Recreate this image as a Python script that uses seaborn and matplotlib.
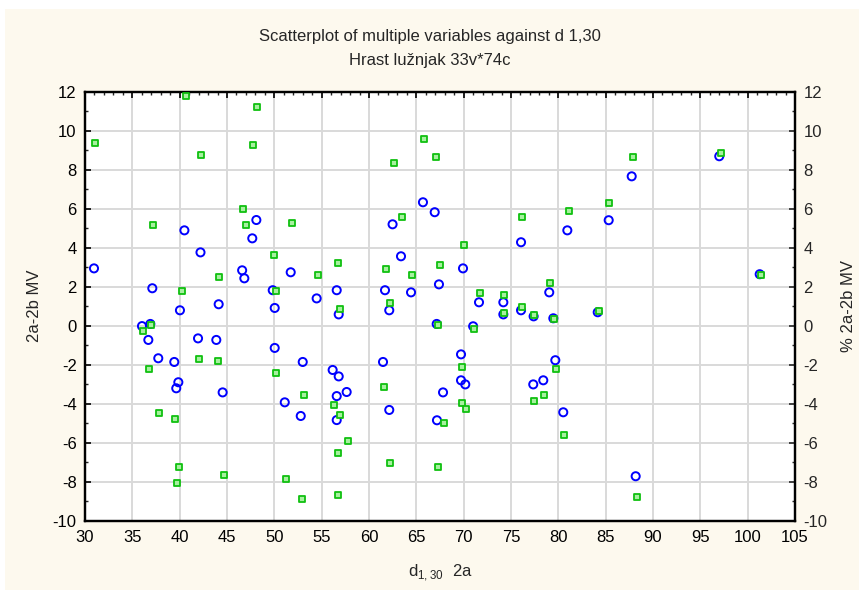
import numpy as np
import pandas as pd
import matplotlib
matplotlib.use("Agg")
import matplotlib.pyplot as plt
from matplotlib.ticker import MultipleLocator
import seaborn as sns

# ── data ──────────────────────────────────────────────────
# blue circles: 2a-2b MV against d1,30
d130_mv = [48.1, 40.5, 47.67, 42.2, 30.95, 46.6, 46.83, 37.11, 44.12, 40.03,
           36.02, 36.9, 36.69, 41.94, 43.87, 37.74, 39.43, 39.86, 39.64, 44.54,
           65.7, 62.49, 63.38, 51.73, 49.83, 56.59, 61.69, 64.44, 54.47, 50.04,
           56.8, 62.14, 50.04, 53.0, 61.48, 56.16, 56.8, 57.64, 56.59, 51.1,
           62.14, 52.79, 56.59, 66.94, 80.95, 85.32, 76.06, 69.93, 67.39, 79.04,
           71.62, 74.19, 74.19, 76.06, 77.39, 79.47, 84.16, 67.15, 71.0, 69.72,
           79.68, 69.72, 70.17, 78.41, 77.35, 67.82, 80.52, 67.18, 87.75, 97.0,
           101.27, 88.17]
mv = [5.42, 4.89, 4.48, 3.76, 2.94, 2.84, 2.43, 1.92, 1.10, 0.79,
      -0.02, 0.09, -0.73, -0.65, -0.73, -1.67, -1.86, -2.90, -3.21, -3.42,
      6.33, 5.2, 3.56, 2.74, 1.82, 1.82, 1.82, 1.71, 1.4, 0.91,
      0.58, 0.79, -1.14, -1.86, -1.86, -2.27, -2.6, -3.4, -3.61, -3.93,
      -4.32, -4.63, -4.84, 5.82, 4.89, 5.41, 4.28, 2.94, 2.12, 1.71,
      1.2, 1.2, 0.58, 0.79, 0.48, 0.38, 0.69, 0.09, -0.03, -1.47,
      -1.77, -2.8, -3.01, -2.8, -3.01, -3.42, -4.44, -4.85, 7.66, 8.69,
      2.64, -7.72]

# green squares: % 2a-2b MV against d1,30
d130_pct = [40.64, 48.2, 31.06, 47.78, 42.29, 46.72, 37.2, 46.97, 44.2, 40.2,
            37.0, 36.16, 42.07, 44.01, 36.8, 37.85, 39.54, 39.96, 44.65, 39.75,
            65.81, 62.64, 63.49, 51.83, 49.93, 56.69, 61.76, 54.58, 64.54, 50.14,
            56.9, 62.22, 50.14, 61.58, 53.1, 56.3, 56.9, 57.75, 56.69, 62.22,
            51.2, 56.69, 52.89, 67.04, 76.19, 81.09, 85.35, 70.0, 67.5, 79.15,
            71.74, 74.29, 74.29, 76.19, 77.46, 79.57, 84.26, 67.29, 71.12, 69.82,
            79.78, 78.51, 77.46, 69.82, 70.28, 67.92, 80.63, 67.29, 87.85, 97.15,
            101.37, 88.27]
pct = [11.79, 11.2, 9.35, 9.25, 8.74, 5.97, 5.15, 5.15, 2.48, 1.76,
       0.04, -0.29, -1.71, -1.81, -2.22, -4.48, -4.80, -7.26, -7.67, -8.07,
       9.56, 8.33, 5.56, 5.25, 3.61, 3.2, 2.89, 2.58, 2.58, 1.76,
       0.86, 1.15, -2.43, -3.14, -3.55, -4.07, -4.58, -5.91, -6.53, -7.04,
       -7.86, -8.68, -8.89, 8.64, 5.56, 5.87, 6.28, 4.12, 3.1, 2.17,
       1.66, 1.56, 0.64, 0.96, 0.53, 0.33, 0.74, 0.02, -0.18, -2.13,
       -2.24, -3.57, -3.88, -3.98, -4.29, -5.01, -5.62, -7.26, 8.64, 8.84,
       2.58, -8.78]

x_ticks = list(range(30, 106, 5))
y_ticks = list(range(-10, 13, 2))

df_mv = pd.DataFrame({"d130": d130_mv, "mv": mv})
df_pct = pd.DataFrame({"d130": d130_pct, "pct": pct})

# ── style ─────────────────────────────────────────────────
sns.set_style("white")
plt.rcParams["font.family"] = ["Liberation Sans", "DejaVu Sans"]
plt.rcParams["axes.unicode_minus"] = False
cream = "#fdf9ee"

fig = plt.figure(figsize=(8.59, 5.90), dpi=100, facecolor=cream)
# thin white strips at the top/left edge of the scanned page
fig.patches.append(plt.Rectangle((0, 1 - 9 / 590), 1, 9 / 590, transform=fig.transFigure,
                                 facecolor="white", edgecolor="none", zorder=0))
fig.patches.append(plt.Rectangle((0, 0), 5 / 859, 1, transform=fig.transFigure,
                                 facecolor="white", edgecolor="none", zorder=0))

ax = fig.add_axes([85 / 859, 1 - 520.7 / 590, 710 / 859, 429 / 590])
ax.set_facecolor("white")

sns.scatterplot(data=df_mv, x="d130", y="mv", ax=ax, marker="o", s=34,
                facecolor="none", edgecolor="#0000ff", linewidth=1.4, zorder=3)

ax2 = ax.twinx()
sns.scatterplot(data=df_pct, x="d130", y="pct", ax=ax2, marker="s", s=15,
                color="#a8f0a0", edgecolor="#10c010", linewidth=1.3, zorder=3)

for a in (ax, ax2):
    a.set_xlim(30, 105)
    a.set_ylim(-10, 12)
    a.set_yticks(y_ticks)
    a.yaxis.set_minor_locator(MultipleLocator(1))
ax.set_xticks(x_ticks)
ax.xaxis.set_minor_locator(MultipleLocator(1))

ax.grid(True, which="major", color="#d9d9d9", linewidth=1.4)
ax.set_axisbelow(True)

for a in (ax, ax2):
    for sp in a.spines.values():
        sp.set_color("black")
        sp.set_linewidth(1.6)

ax.tick_params(which="major", direction="in", length=4, width=1.2, labelsize=12,
               top=True, right=False, colors="black")
ax.tick_params(which="minor", direction="in", length=2, width=1.0, top=True, right=False)
ax.tick_params(axis="x", pad=7)
ax.tick_params(axis="y", pad=6)
ax2.tick_params(which="major", direction="in", length=4, width=1.2, labelsize=12, pad=6)
ax2.tick_params(which="minor", direction="in", length=2, width=1.0)

ax.set_xlabel(r"d$_{\mathregular{1,30}}$  2a", fontsize=12, labelpad=12)
ax.set_ylabel("2a-2b MV", fontsize=12, labelpad=8)
ax2.set_ylabel("% 2a-2b MV", fontsize=12, labelpad=10)

fig.text(0.5, 1 - 37 / 590, "Scatterplot of multiple variables against d 1,30",
         ha="center", va="center", fontsize=12)
fig.text(0.5, 1 - 60 / 590, "Hrast lužnjak 33v*74c", ha="center", va="center", fontsize=12)

plt.savefig("out.png", dpi=100, facecolor=cream)
